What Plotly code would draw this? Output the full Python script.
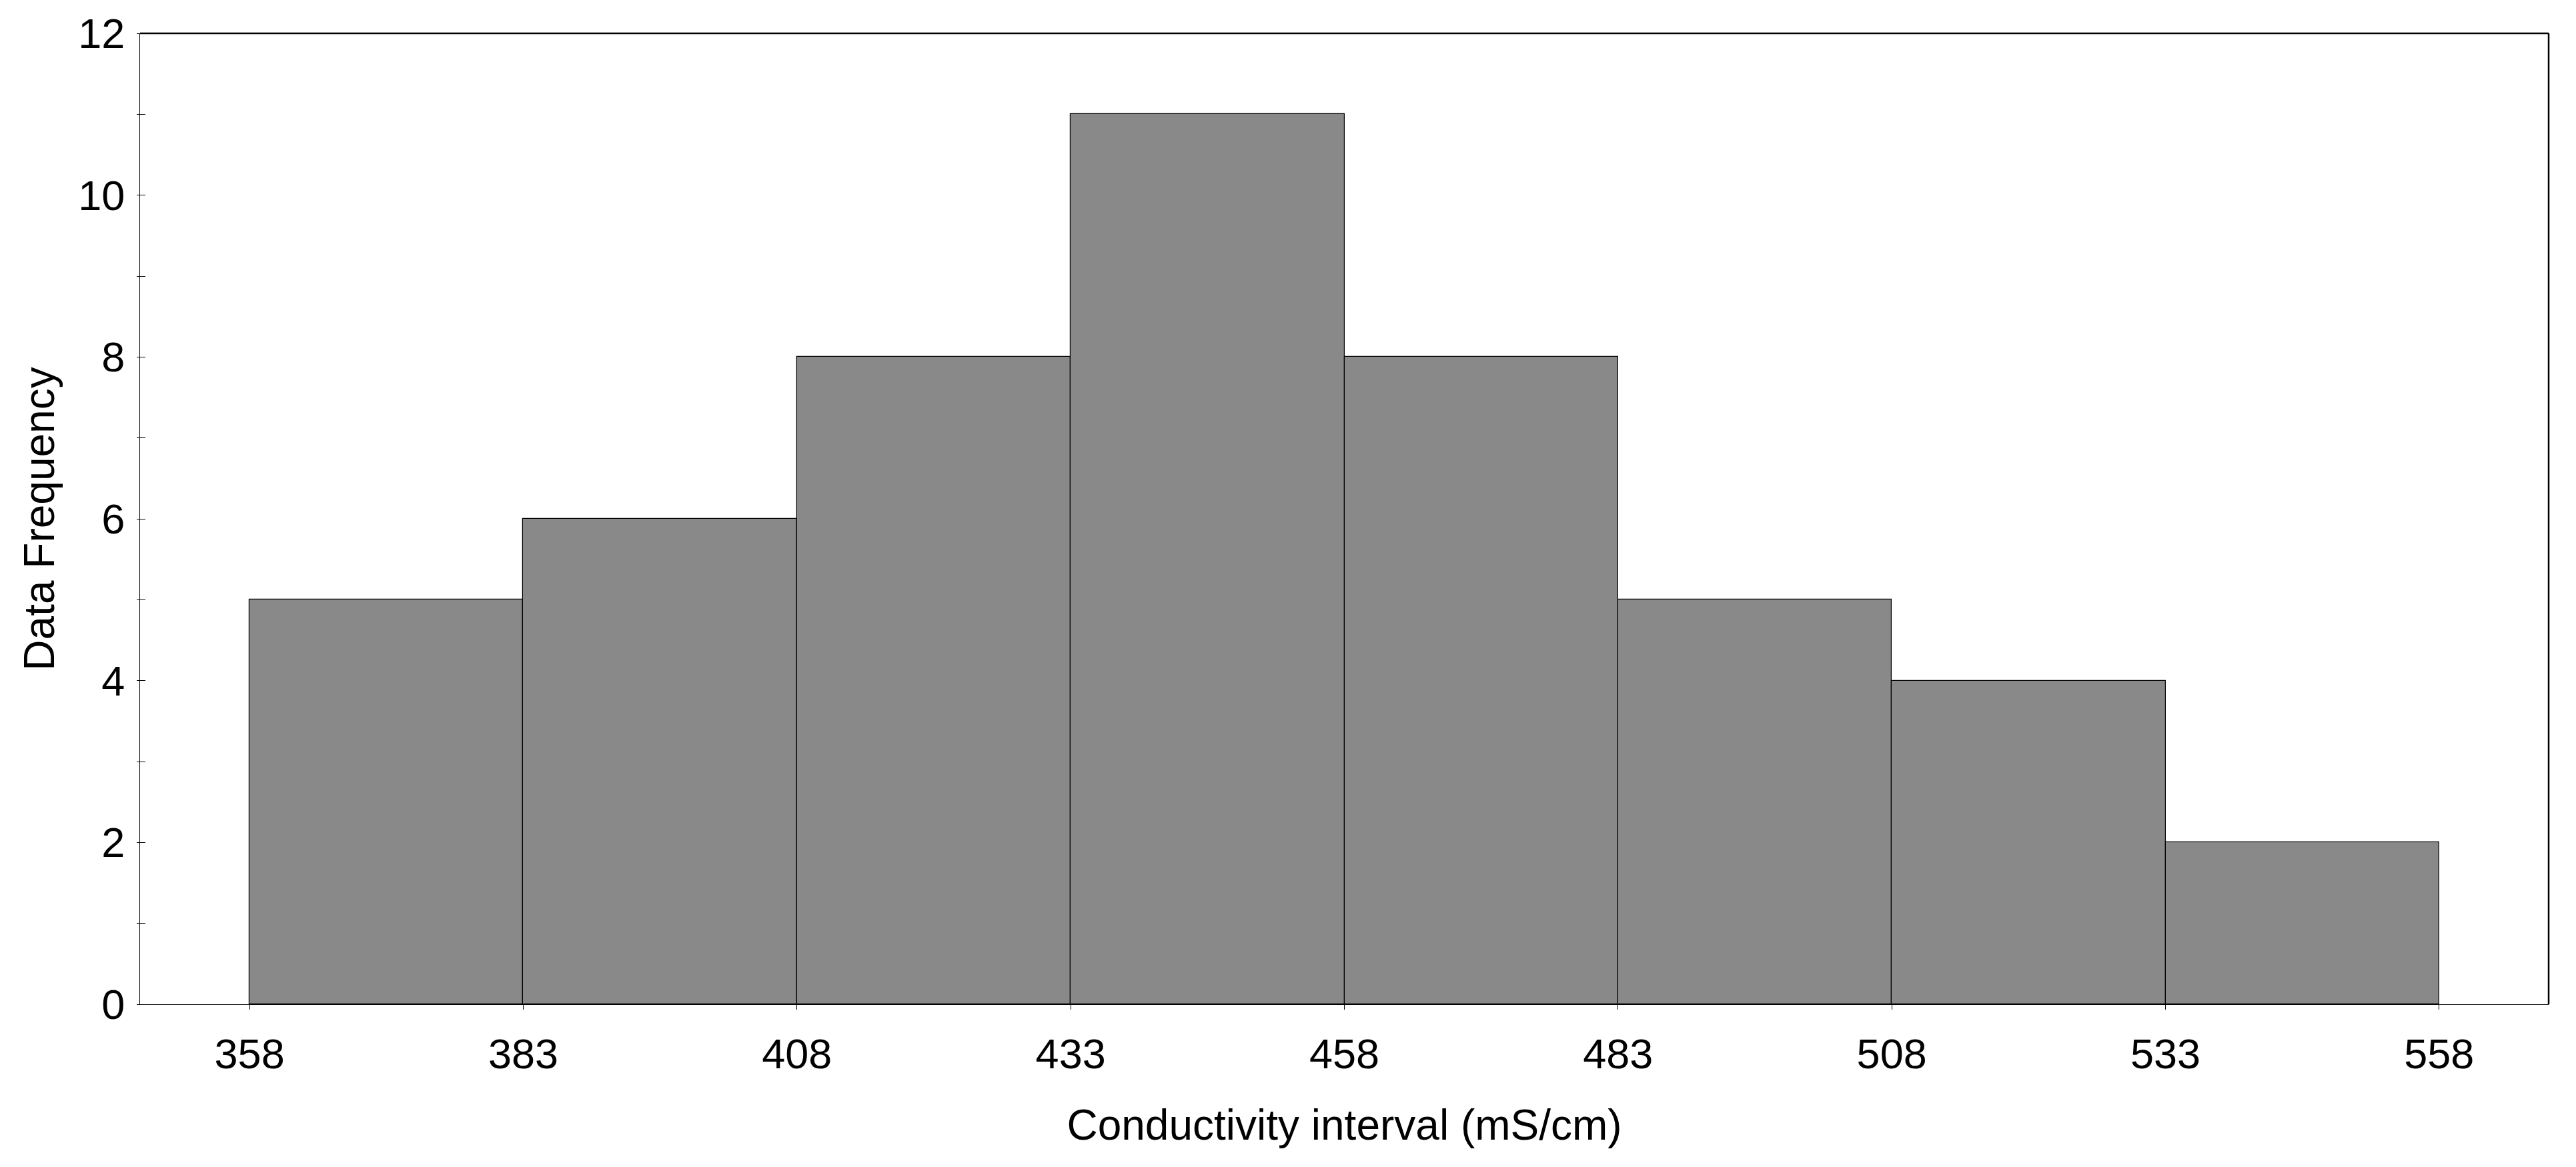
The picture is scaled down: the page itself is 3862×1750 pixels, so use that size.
import plotly.graph_objects as go

# Data
bin_starts = [358, 383, 408, 433, 458, 483, 508, 533]
bin_width = 25
frequencies = [5, 6, 8, 11, 8, 5, 4, 2]
x_tick_vals = [358, 383, 408, 433, 458, 483, 508, 533, 558]
x_tick_text = ["358", "383", "408", "433", "458", "483", "508", "533", "558"]
y_tick_vals = [0, 2, 4, 6, 8, 10, 12]

FONT = "Liberation Sans, Arial, sans-serif"

fig = go.Figure()
fig.add_trace(go.Bar(
    x=bin_starts,
    y=frequencies,
    width=[bin_width] * len(bin_starts),
    offset=0,
    marker=dict(color="#898989", line=dict(color="black", width=1.2)),
    showlegend=False,
    hoverinfo="skip",
))
# invisible trace to carry the inside ticks of the y axis
fig.add_trace(go.Scatter(x=[bin_starts[0]], y=[0], yaxis="y2", mode="markers",
                         marker=dict(opacity=0), showlegend=False, hoverinfo="skip"))

fig.update_layout(
    width=3846, height=1734,
    margin=dict(l=202, r=33, t=42, b=236, autoexpand=False),
    paper_bgcolor="white", plot_bgcolor="white",
    font=dict(family=FONT, size=64, color="black"),
    bargap=0,
    xaxis=dict(
        range=[348, 568],
        tickmode="array", tickvals=x_tick_vals, ticktext=x_tick_text,
        ticks="outside", ticklen=7, tickwidth=1, tickcolor="black",
        showline=True, linecolor="black", linewidth=1,
        showgrid=False, zeroline=False,
        tickfont=dict(size=63, family=FONT),
        ticklabelstandoff=12,
        title=dict(text="Conductivity interval (mS/cm)", font=dict(size=64, family=FONT), standoff=50),
    ),
    yaxis=dict(
        range=[0, 12],
        tickmode="array", tickvals=y_tick_vals,
        ticks="outside", ticklen=4, tickwidth=1, tickcolor="black",
        minor=dict(dtick=1, ticks="outside", ticklen=4, tickwidth=1, tickcolor="black"),
        showline=True, linecolor="black", linewidth=1,
        showgrid=False, zeroline=False,
        tickfont=dict(size=63, family=FONT),
        ticklabelstandoff=5,
        title=dict(text="Data Frequency", font=dict(size=64, family=FONT), standoff=14),
    ),
    yaxis2=dict(
        range=[0, 12], overlaying="y", side="left",
        tickmode="array", tickvals=y_tick_vals, showticklabels=False,
        ticks="inside", ticklen=8, tickwidth=1, tickcolor="black",
        minor=dict(dtick=1, ticks="inside", ticklen=8, tickwidth=1, tickcolor="black"),
        showline=False, showgrid=False, zeroline=False,
    ),
    shapes=[
        dict(type="line", xref="paper", yref="paper", x0=0, x1=1, y0=1, y1=1,
             line=dict(color="black", width=2.5)),
        dict(type="line", xref="paper", yref="paper", x0=1, x1=1, y0=0, y1=1,
             line=dict(color="black", width=2.5)),
    ],
)

fig.write_html("out.html")
